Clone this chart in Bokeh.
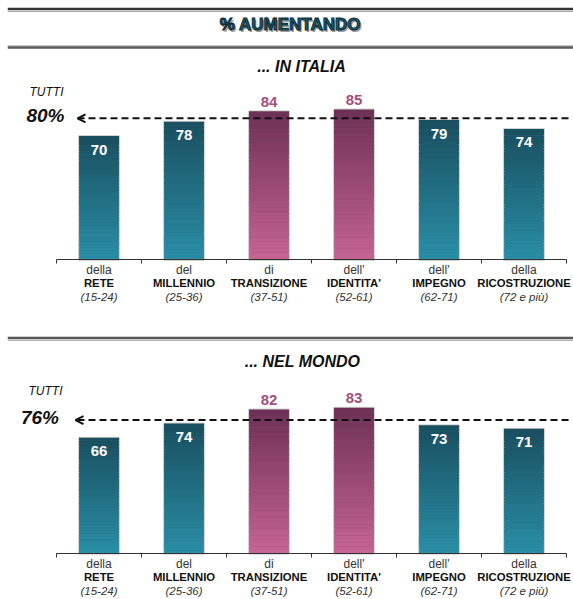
from bokeh.plotting import figure
from bokeh.models import (Range1d, Label, Span, Arrow, OpenHead, LinearAxis,
                          FixedTicker, ColumnDataSource)
from bokeh.layouts import column
from bokeh.core.properties import value
from bokeh.embed import file_html
from bokeh.resources import INLINE

# ---------------- data ----------------
label_top = ["della", "del", "di", "dell'", "dell'", "della"]
label_main = ["RETE", "MILLENNIO", "TRANSIZIONE", "IDENTITA'", "IMPEGNO", "RICOSTRUZIONE"]
label_age = ["(15-24)", "(25-36)", "(37-51)", "(52-61)", "(62-71)", "(72 e più)"]
italia = [70, 78, 84, 85, 79, 74]
mondo = [66, 74, 82, 83, 73, 71]
italia_total = 80
mondo_total = 76
highlight = [False, False, True, True, False, False]

FONT = "Liberation Sans"
W = 573
LEFT = 7       # frame starts here (page px)
X0 = 56.0      # page x of axis start
STEP = 85.0    # px per category

BLUE_TOP, BLUE_BOT = (25, 78, 94), (42, 143, 167)
PINK_TOP, PINK_BOT = (108, 48, 84), (198, 101, 148)


def hexc(c):
    return "#%02x%02x%02x" % tuple(int(round(v)) for v in c)


def lerp(a, b, t):
    return tuple(a[i] + (b[i] - a[i]) * t for i in range(3))


def make_panel(values, total, title, top_page, bottom_page, zero_page, scale,
               title_pos, tutti_pos, pct_pos, arrow_x, lab_off, sep_page=None):
    h = bottom_page - top_page
    fx = lambda x: (x - X0) / STEP
    fy = lambda y: (zero_page - y) / scale
    p = figure(width=W, height=h, output_backend="svg", toolbar_location=None,
               x_range=Range1d(fx(LEFT), fx(W)),
               y_range=Range1d(fy(bottom_page), fy(top_page)),
               x_axis_location=None, y_axis_location=None, min_border=0,
               min_border_left=LEFT,
               outline_line_color=None, background_fill_color="white",
               border_fill_color="white")
    p.grid.visible = False

    xs = [i + 0.5 for i in range(len(values))]
    mid = [hexc(lerp(PINK_BOT if hl else BLUE_BOT, PINK_TOP if hl else BLUE_TOP, 0.5))
           for hl in highlight]
    src = ColumnDataSource(dict(x=xs, top=values, color=mid))
    p.vbar(x="x", top="top", bottom=0, width=0.47, source=src, fill_color="color",
           line_color="#d2d2d2", line_width=2)

    # vertical gradient overlay (derived from bar values)
    N = 40
    gx, gb, gt, gc = [], [], [], []
    for x, v, hl in zip(xs, values, highlight):
        top_c, bot_c = (PINK_TOP, PINK_BOT) if hl else (BLUE_TOP, BLUE_BOT)
        for k in range(N):
            gx.append(x)
            gb.append(v * k / N)
            gt.append(v * (k + 1) / N + (0.05 if k < N - 1 else 0))
            gc.append(hexc(lerp(bot_c, top_c, (k + 0.5) / N)))
    p.vbar(x=gx, bottom=gb, top=gt, width=0.47, fill_color=gc, line_color=None)

    # value labels
    in_x = [x for x, hl in zip(xs, highlight) if not hl]
    in_v = [v for v, hl in zip(values, highlight) if not hl]
    out_x = [x for x, hl in zip(xs, highlight) if hl]
    out_v = [v for v, hl in zip(values, highlight) if hl]
    p.text(x=in_x, y=in_v, text=[str(v) for v in in_v], y_offset=13.5,
           text_align="center", text_baseline="middle", text_color="white",
           text_font=value(FONT), text_font_style="bold", text_font_size="15px")
    p.text(x=out_x, y=out_v, text=[str(v) for v in out_v], y_offset=-9.5,
           text_align="center", text_baseline="middle", text_color="#a44f7e",
           text_font=value(FONT), text_font_style="bold", text_font_size="15px")

    # axis
    ax = LinearAxis(ticker=FixedTicker(ticks=list(range(len(values) + 1))),
                    fixed_location=0, bounds=(0, len(values)),
                    major_tick_out=4, major_tick_in=0, minor_tick_out=0,
                    minor_tick_in=0, axis_line_color="#333333",
                    major_tick_line_color="#333333",
                    major_label_text_font_size="0px", major_label_text_color=None)
    p.add_layout(ax, "below")

    # category labels
    zeros = [0] * len(xs)
    p.text(x=xs, y=zeros, text=label_top, y_offset=lab_off[0], text_align="center",
           text_baseline="middle", text_color="#333333", text_font=value(FONT),
           text_font_size="12px")
    p.text(x=xs, y=zeros, text=label_main, y_offset=lab_off[1], text_align="center",
           text_baseline="middle", text_color="#111111", text_font=value(FONT),
           text_font_style="bold", text_font_size="11.3px")
    p.text(x=xs, y=zeros, text=label_age, y_offset=lab_off[2], text_align="center",
           text_baseline="middle", text_color="#333333", text_font=value(FONT),
           text_font_style="italic", text_font_size="11.5px")

    # total reference line with arrow
    p.add_layout(Arrow(end=OpenHead(size=8, line_width=2, line_color="#111111"),
                       x_start=fx(568), y_start=total, x_end=fx(arrow_x), y_end=total,
                       line_dash="7 4", line_width=2, line_color="#111111"))

    p.add_layout(Label(x=fx(tutti_pos[0]), y=fy(tutti_pos[1]), text="TUTTI",
                       text_align="right", text_baseline="middle",
                       text_font=FONT, text_font_style="italic",
                       text_font_size="12px", text_color="#111111"))
    p.add_layout(Label(x=fx(pct_pos[0]), y=fy(pct_pos[1]), text=f"{total}%",
                       text_align="right", text_baseline="middle",
                       text_font=FONT, text_font_style="bold italic",
                       text_font_size="19px", text_color="#111111"))
    p.add_layout(Label(x=fx(title_pos[0]), y=fy(title_pos[1]), text=title,
                       text_align="center", text_baseline="middle",
                       text_font=FONT, text_font_style="bold italic",
                       text_font_size="16px", text_color="#111111"))
    if sep_page is not None:
        p.add_layout(Span(location=fy(sep_page), dimension="width",
                          line_color="#555555", line_width=2.5))
        p.add_layout(Span(location=fy(sep_page + 2.5), dimension="width",
                          line_color="#b0b0b0", line_width=1.2))
    return p


# ---------------- header ----------------
hdr = figure(width=W, height=50, output_backend="svg", toolbar_location=None,
             x_range=Range1d(LEFT, W), y_range=Range1d(50, 0),
             x_axis_location=None, y_axis_location=None, min_border=0,
             min_border_left=LEFT, outline_line_color=None)
hdr.grid.visible = False
hdr.add_layout(Span(location=8.5, dimension="width", line_color="#333333", line_width=2.5))
hdr.add_layout(Span(location=11, dimension="width", line_color="#a8a8a8", line_width=1.2))
hdr.add_layout(Span(location=45.3, dimension="width", line_color="#b0b0b0", line_width=1))
hdr.add_layout(Span(location=47, dimension="width", line_color="#5a5a5a", line_width=2.5))
hdr.add_layout(Label(x=291.5, y=25.5, text="% AUMENTANDO", text_align="center",
                     text_baseline="middle", text_font=FONT, text_font_style="bold",
                     text_font_size="17px", text_color="#9a9a9a"))
hdr.add_layout(Label(x=290, y=23.5, text="% AUMENTANDO", text_align="center",
                     text_baseline="middle", text_font=FONT, text_font_style="bold",
                     text_font_size="17px", text_color="#21606f",
                     text_outline_color="#0c2a33"))

p1 = make_panel(italia, italia_total, "... IN ITALIA", 50, 325, 259.4, 1.77,
                title_pos=(301, 66), tutti_pos=(63, 91), pct_pos=(64, 115),
                arrow_x=77, lab_off=(9.7, 22.7, 36.7))
p2 = make_panel(mondo, mondo_total, "... NEL MONDO", 325, 599, 553.3, 1.76,
                title_pos=(302, 361), tutti_pos=(62, 390), pct_pos=(58.5, 417),
                arrow_x=75, lab_off=(10, 22.7, 37.5), sep_page=337.5)

layout = column(hdr, p1, p2, spacing=0)
open("out.html", "w").write(file_html(layout, INLINE))
